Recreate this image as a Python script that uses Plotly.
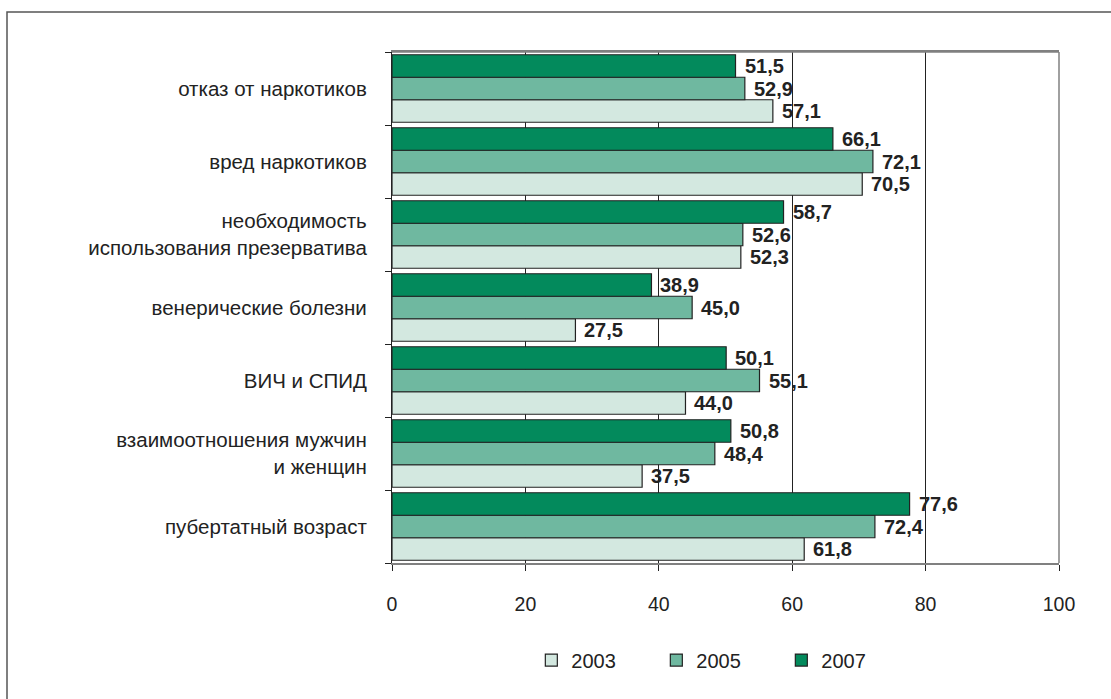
import plotly.graph_objects as go

# Topics (top to bottom) and shares by survey year, %
categories = [
    "отказ от наркотиков",
    "вред наркотиков",
    "необходимость<br>использования презерватива",
    "венерические болезни",
    "ВИЧ и СПИД",
    "взаимоотношения мужчин<br>и женщин",
    "пубертатный возраст",
]
years = ["2003", "2005", "2007"]
values_2003 = [57.1, 70.5, 52.3, 27.5, 44.0, 37.5, 61.8]
values_2005 = [52.9, 72.1, 52.6, 45.0, 55.1, 48.4, 72.4]
values_2007 = [51.5, 66.1, 58.7, 38.9, 50.1, 50.8, 77.6]
x_ticks = [0, 20, 40, 60, 80, 100]

series = [values_2003, values_2005, values_2007]
colors = ["#d3e8e0", "#6fb8a0", "#038a5c"]
FONT = "Liberation Sans, Arial, sans-serif"

fig = go.Figure()
for year, vals, col in zip(years, series, colors):
    fig.add_trace(go.Bar(
        y=categories, x=vals, name=year, orientation="h",
        marker=dict(color=col, line=dict(color="#222222", width=1.2)),
    ))

# Value labels just past the end of each bar
BAR_PX = 22.5
shifts = [-BAR_PX, 0, BAR_PX]
for vals, dy in zip(series, shifts):
    for cat, v in zip(categories, vals):
        fig.add_annotation(
            x=v, y=cat, xref="x", yref="y", text=f"{v:.1f}".replace(".", ","),
            showarrow=False, xanchor="left", yanchor="middle",
            xshift=7, yshift=dy,
            font=dict(family=FONT, size=20, color="#222222", weight="bold"),
        )

# Outer frame around the figure
fig.add_shape(
    type="rect", xref="paper", yref="paper",
    x0=(7 - 392) / 667, x1=2, y0=-2, y1=(563 - 12) / 511,
    line=dict(color="#555555", width=1.5), fillcolor="rgba(0,0,0,0)", layer="below",
)

fig.update_layout(
    width=1111, height=699,
    margin=dict(l=392, r=52, t=52, b=136),
    paper_bgcolor="white", plot_bgcolor="white",
    barmode="group", bargap=0.075, bargroupgap=0,
    font=dict(family=FONT, color="#222222"),
    showlegend=True,
    legend=dict(
        orientation="h", x=0.49, xanchor="center", y=-0.19, yanchor="middle",
        font=dict(family=FONT, size=20, color="#222222"),
        entrywidth=80, entrywidthmode="pixels", traceorder="normal",
    ),
    xaxis=dict(
        range=[0, 100], tickvals=x_ticks, ticktext=[str(t) for t in x_ticks],
        showgrid=True, gridcolor="#222222", gridwidth=1,
        showline=True, linecolor="#808080", linewidth=1.5, mirror=True,
        ticks="outside", ticklen=6, tickcolor="#222222",
        tickfont=dict(family=FONT, size=19.5, color="#222222"),
        ticklabelstandoff=17, zeroline=False, fixedrange=True,
    ),
    yaxis=dict(
        categoryorder="array", categoryarray=categories[::-1],
        tickson="boundaries", ticks="outside", ticklen=6, tickcolor="#222222",
        showline=True, linecolor="#222222", linewidth=1.2, mirror=False,
        showgrid=False,
        tickfont=dict(family=FONT, size=20.5, color="#222222"),
        ticklabelstandoff=20, fixedrange=True,
    ),
)
# Top and right edges of the plotting area
fig.add_shape(type="line", xref="paper", yref="paper", x0=0, x1=1, y0=1, y1=1,
              line=dict(color="#808080", width=1.5))
fig.add_shape(type="line", xref="paper", yref="paper", x0=1, x1=1, y0=0, y1=1,
              line=dict(color="#808080", width=1.5))

fig.write_html("out.html")
